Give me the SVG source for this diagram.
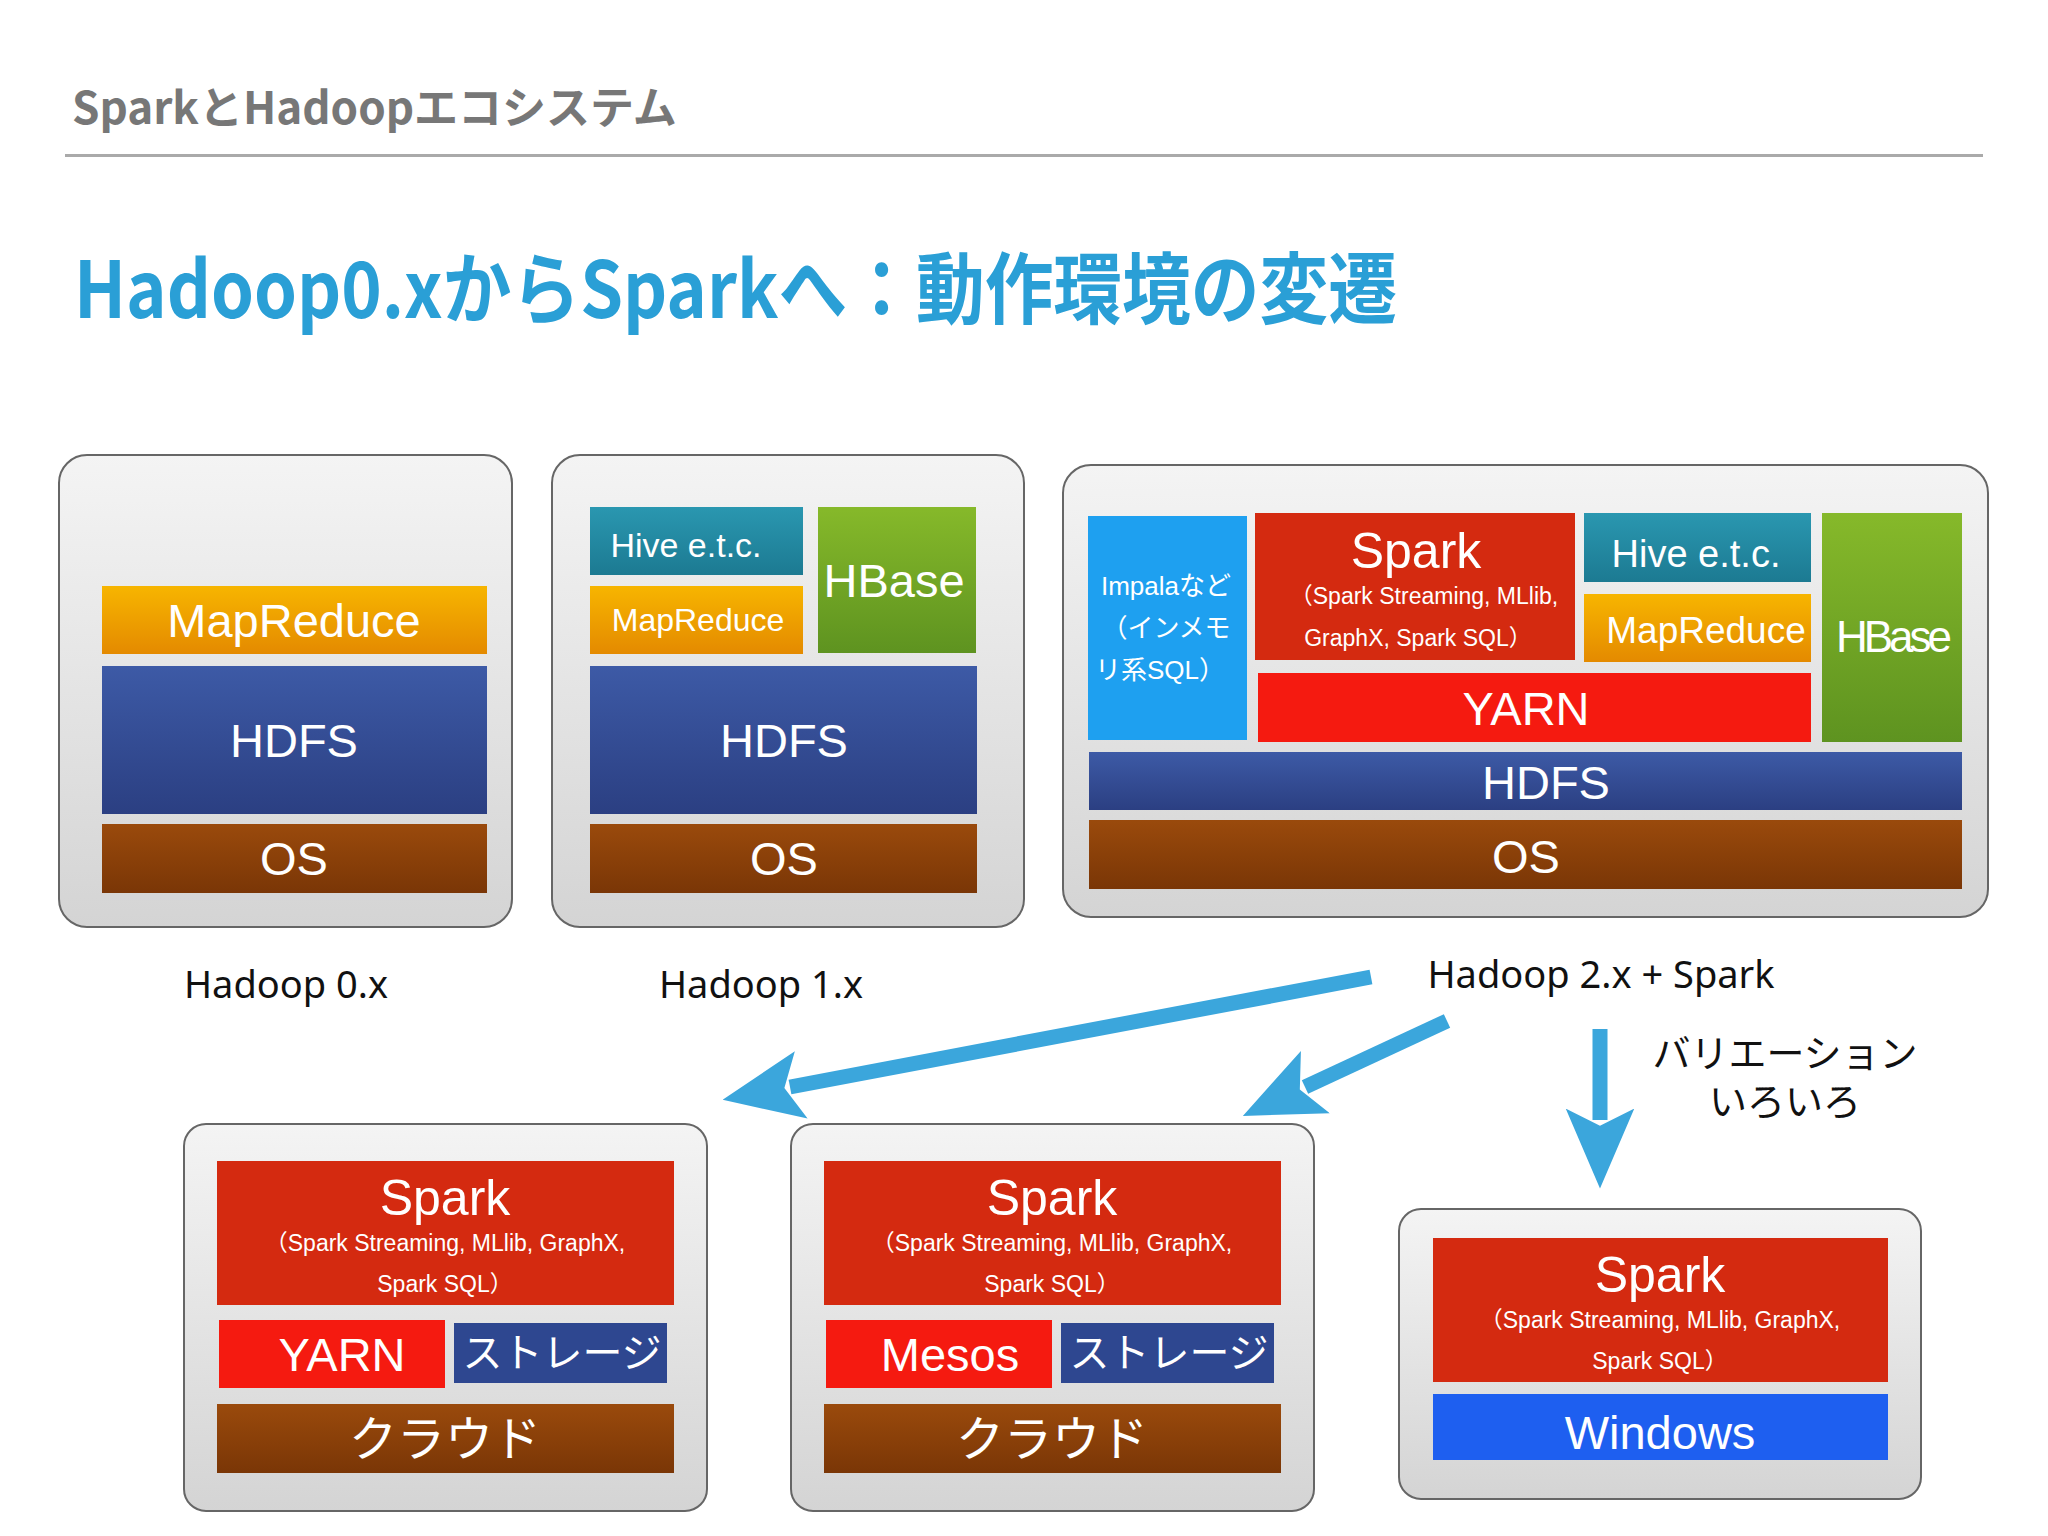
<svg xmlns="http://www.w3.org/2000/svg" width="2048" height="1536" viewBox="0 0 2048 1536">
<defs>
<linearGradient id="gp" x1="0" y1="0" x2="0" y2="1"><stop offset="0" stop-color="#f4f4f4"/><stop offset="1" stop-color="#d4d4d4"/></linearGradient>
<linearGradient id="go" x1="0" y1="0" x2="0" y2="1"><stop offset="0" stop-color="#f7b500"/><stop offset="1" stop-color="#e48a00"/></linearGradient>
<linearGradient id="gh" x1="0" y1="0" x2="0" y2="1"><stop offset="0" stop-color="#3d5aa6"/><stop offset="1" stop-color="#2b3f82"/></linearGradient>
<linearGradient id="gs" x1="0" y1="0" x2="0" y2="1"><stop offset="0" stop-color="#9a4a0c"/><stop offset="1" stop-color="#7a3606"/></linearGradient>
<linearGradient id="gt" x1="0" y1="0" x2="0" y2="1"><stop offset="0" stop-color="#2a97b0"/><stop offset="1" stop-color="#1c7a92"/></linearGradient>
<linearGradient id="gg" x1="0" y1="0" x2="0" y2="1"><stop offset="0" stop-color="#86b92a"/><stop offset="1" stop-color="#5e9320"/></linearGradient>
<marker id="ah" markerUnits="userSpaceOnUse" markerWidth="80" markerHeight="80" refX="10" refY="30" orient="auto" viewBox="0 0 70 60"><path d="M0,30 L70,0 L55,30 L70,60 Z" fill="#3ba6dc" transform="rotate(180 35 30)"/></marker>
</defs>
<style>
.p{fill:url(#gp);stroke:#666;stroke-width:2}
.t{font-family:"Liberation Sans","Noto Sans CJK JP",sans-serif;fill:#fff;text-anchor:middle}
.b{font-size:47px}
.s{font-size:23px}
.l{font-family:"Noto Sans","Noto Sans CJK JP",sans-serif;font-size:38px;fill:#111;text-anchor:middle}
.red{fill:#d42a10}.yr{fill:#f51a10}.nv{fill:#2e4790}
</style>
<rect width="2048" height="1536" fill="#fff"/>
<text x="72" y="124" font-family="Noto Sans CJK JP, sans-serif" font-size="44" fill="#777" font-weight="bold">SparkとHadoopエコシステム</text>
<rect x="65" y="154" width="1918" height="3" fill="#aaa"/>
<text x="74" y="318" font-family="Noto Sans CJK JP, sans-serif" font-size="78" font-weight="bold" fill="#2a9fd6" textLength="1323" lengthAdjust="spacingAndGlyphs">Hadoop0.xからSparkへ：動作環境の変遷</text>

<g id="p1"><rect class="p" x="59" y="455" width="453" height="472" rx="28"/>
<rect x="102" y="586" width="385" height="68" fill="url(#go)"/><text class="t b" x="294" y="637">MapReduce</text>
<rect x="102" y="666" width="385" height="148" fill="url(#gh)"/><text class="t b" x="294" y="757">HDFS</text>
<rect x="102" y="824" width="385" height="69" fill="url(#gs)"/><text class="t b" x="294" y="875">OS</text></g>

<g id="p2"><rect class="p" x="552" y="455" width="472" height="472" rx="28"/>
<rect x="590" y="507" width="213" height="68" fill="url(#gt)"/><text class="t" font-size="34" x="686" y="557">Hive e.t.c.</text>
<rect x="590" y="586" width="213" height="68" fill="url(#go)"/><text class="t" font-size="32" x="698" y="631">MapReduce</text>
<rect x="818" y="507" width="158" height="146" fill="url(#gg)"/><text class="t b" x="894" y="597">HBase</text>
<rect x="590" y="666" width="387" height="148" fill="url(#gh)"/><text class="t b" x="784" y="757">HDFS</text>
<rect x="590" y="824" width="387" height="69" fill="url(#gs)"/><text class="t b" x="784" y="875">OS</text></g>

<g id="p3"><rect class="p" x="1063" y="465" width="925" height="452" rx="28"/>
<rect x="1088" y="516" width="159" height="224" fill="#1ea0f0"/>
<text class="t" font-size="26" x="1166" y="595">Impalaなど</text><text class="t" font-size="26" x="1166" y="637">（インメモ</text><text class="t" font-size="26" x="1160" y="679">リ系SQL）</text>
<rect x="1255" y="513" width="320" height="147" class="red"/><text class="t" font-size="50" x="1416" y="568">Spark</text>
<text class="t s" x="1424" y="604">（Spark Streaming, MLlib,</text><text class="t s" x="1418" y="646">GraphX, Spark SQL）</text>
<rect x="1584" y="513" width="227" height="69" fill="url(#gt)"/><text class="t" font-size="38" x="1696" y="567">Hive e.t.c.</text>
<rect x="1584" y="594" width="227" height="68" fill="url(#go)"/><text class="t" font-size="37" x="1706" y="643">MapReduce</text>
<rect x="1822" y="513" width="140" height="229" fill="url(#gg)"/><text class="t" font-size="44" letter-spacing="-4" x="1892" y="652">HBase</text>
<rect x="1258" y="673" width="553" height="69" class="yr"/><text class="t b" x="1526" y="725">YARN</text>
<rect x="1089" y="752" width="873" height="58" fill="url(#gh)"/><text class="t b" x="1546" y="799">HDFS</text>
<rect x="1089" y="820" width="873" height="69" fill="url(#gs)"/><text class="t b" x="1526" y="873">OS</text></g>

<g id="labels">
<text class="l" x="286" y="998">Hadoop 0.x</text>
<text class="l" x="761" y="998">Hadoop 1.x</text>
<text class="l" x="1601" y="988">Hadoop 2.x + Spark</text>
<text class="l" x="1785" y="1067">バリエーション</text>
<text class="l" x="1785" y="1115">いろいろ</text></g>

<g id="connectors" stroke="#3ba6dc" stroke-width="15" fill="none">
<line x1="1371" y1="977" x2="790" y2="1087" marker-end="url(#ah)"/>
<line x1="1447" y1="1021" x2="1305" y2="1087" marker-end="url(#ah)"/>
<line x1="1600" y1="1029" x2="1600" y2="1120" marker-end="url(#ah)"/>
</g>

<g id="p4"><rect class="p" x="184" y="1124" width="523" height="387" rx="22"/>
<rect x="217" y="1161" width="457" height="144" class="red"/><text class="t" font-size="50" x="445" y="1215">Spark</text>
<text class="t s" x="445" y="1251">（Spark Streaming, MLlib, GraphX,</text><text class="t s" x="445" y="1292">Spark SQL）</text>
<rect x="219" y="1320" width="226" height="68" class="yr"/><text class="t b" x="342" y="1371">YARN</text>
<rect x="454" y="1323" width="213" height="60" class="nv"/><text class="t" font-size="40" x="562" y="1367">ストレージ</text>
<rect x="217" y="1404" width="457" height="69" fill="url(#gs)"/><text class="t" font-size="48" x="445" y="1456">クラウド</text></g>

<g id="p5"><rect class="p" x="791" y="1124" width="523" height="387" rx="22"/>
<rect x="824" y="1161" width="457" height="144" class="red"/><text class="t" font-size="50" x="1052" y="1215">Spark</text>
<text class="t s" x="1052" y="1251">（Spark Streaming, MLlib, GraphX,</text><text class="t s" x="1052" y="1292">Spark SQL）</text>
<rect x="826" y="1320" width="226" height="68" class="yr"/><text class="t b" x="950" y="1371">Mesos</text>
<rect x="1061" y="1323" width="213" height="60" class="nv"/><text class="t" font-size="40" x="1169" y="1367">ストレージ</text>
<rect x="824" y="1404" width="457" height="69" fill="url(#gs)"/><text class="t" font-size="48" x="1052" y="1456">クラウド</text></g>

<g id="p6"><rect class="p" x="1399" y="1209" width="522" height="290" rx="22"/>
<rect x="1433" y="1238" width="455" height="144" class="red"/><text class="t" font-size="50" x="1660" y="1292">Spark</text>
<text class="t s" x="1660" y="1328">（Spark Streaming, MLlib, GraphX,</text><text class="t s" x="1660" y="1369">Spark SQL）</text>
<rect x="1433" y="1394" width="455" height="66" fill="#1e5ff0"/><text class="t b" x="1660" y="1449">Windows</text></g>
</svg>
